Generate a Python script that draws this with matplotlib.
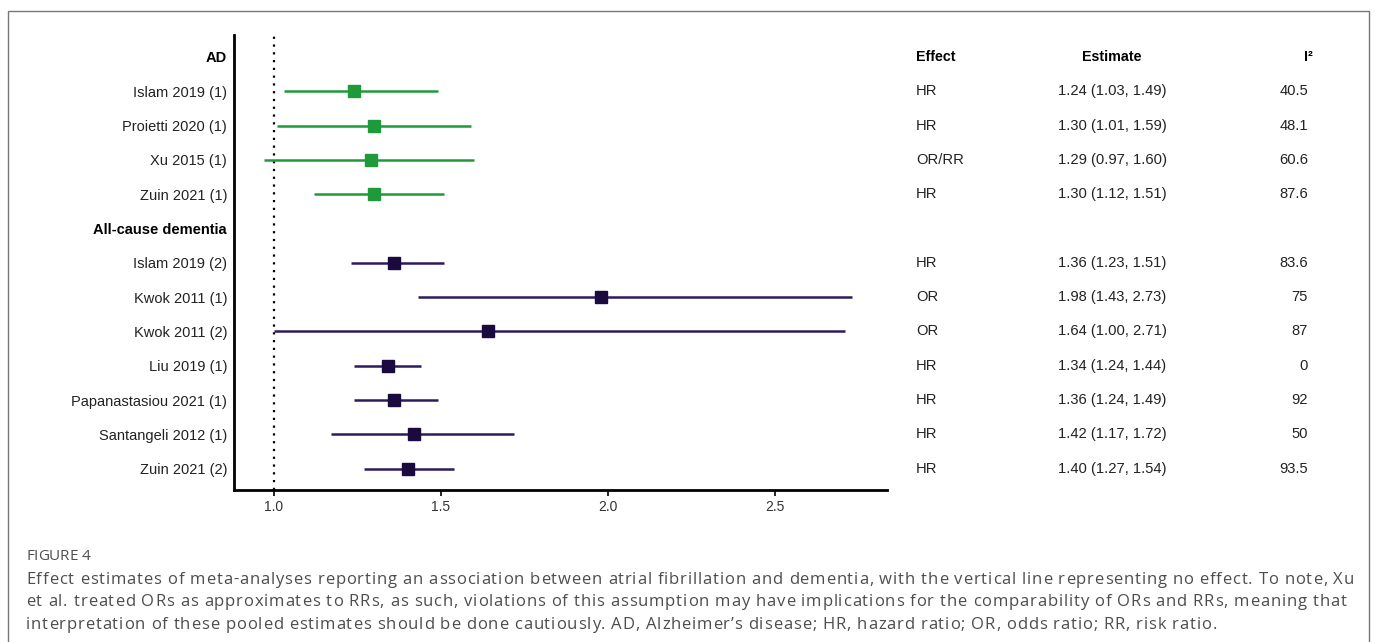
import matplotlib
matplotlib.use("Agg")
import matplotlib.pyplot as plt
import matplotlib.transforms as mtransforms
from matplotlib.patches import Rectangle
from matplotlib.font_manager import FontProperties, findfont, get_font

# ---------------- data ----------------
ad_studies = ["Islam 2019 (1)", "Proietti 2020 (1)", "Xu 2015 (1)", "Zuin 2021 (1)"]
ad_est = [1.24, 1.30, 1.29, 1.30]
ad_lo = [1.03, 1.01, 0.97, 1.12]
ad_hi = [1.49, 1.59, 1.60, 1.51]
ad_effect = ["HR", "HR", "OR/RR", "HR"]
ad_i2 = ["40.5", "48.1", "60.6", "87.6"]

dem_studies = ["Islam 2019 (2)", "Kwok 2011 (1)", "Kwok 2011 (2)", "Liu 2019 (1)",
               "Papanastasiou 2021 (1)", "Santangeli 2012 (1)", "Zuin 2021 (2)"]
dem_est = [1.36, 1.98, 1.64, 1.34, 1.36, 1.42, 1.40]
dem_lo = [1.23, 1.43, 1.00, 1.24, 1.24, 1.17, 1.27]
dem_hi = [1.51, 2.73, 2.71, 1.44, 1.49, 1.72, 1.54]
dem_effect = ["HR", "OR", "OR", "HR", "HR", "HR", "HR"]
dem_i2 = ["83.6", "75", "87", "0", "92", "50", "93.5"]

group_names = ["AD", "All-cause dementia"]
xticks = [1.0, 1.5, 2.0, 2.5]

caption_title = "FIGURE 4"
cap_lines = [
    "Effect estimates of meta-analyses reporting an association between atrial fibrillation and dementia, with the vertical line representing no effect. To note, Xu",
    "et al. treated ORs as approximates to RRs, as such, violations of this assumption may have implications for the comparability of ORs and RRs, meaning that",
    "interpretation of these pooled estimates should be done cautiously. AD, Alzheimer\u2019s disease; HR, hazard ratio; OR, odds ratio; RR, risk ratio.",
]

green = "#1f9a3a"
navy = "#1b0a3e"
navy_line = "#2e1b5e"

plt.rcParams['font.family'] = ['Liberation Sans', 'DejaVu Sans']

W, H, DPI = 1375, 642, 100
fig = plt.figure(figsize=(W / DPI, H / DPI), dpi=DPI)

# border
fig.patches.append(Rectangle((8 / W, -0.05), (1369 - 8) / W, 1.05 - 11 / H,
                             transform=fig.transFigure, fill=False,
                             edgecolor="#777777", linewidth=1.0))

ax = fig.add_axes([234 / W, 1 - 490 / H, (887 - 234) / W, (490 - 35) / H])

# build rows (top to bottom)
rows = []
rows.append((group_names[0], True, None, None, None, None, "", ""))
for s, e, l, h, ef, i2 in zip(ad_studies, ad_est, ad_lo, ad_hi, ad_effect, ad_i2):
    rows.append((s, False, e, l, h, "ad", ef, i2))
rows.append((group_names[1], True, None, None, None, None, "", ""))
for s, e, l, h, ef, i2 in zip(dem_studies, dem_est, dem_lo, dem_hi, dem_effect, dem_i2):
    rows.append((s, False, e, l, h, "dem", ef, i2))

n = len(rows)
ypos = [n - 1 - i for i in range(n)]

for (lab, bold, e, l, h, grp, ef, i2), y in zip(rows, ypos):
    if e is None:
        continue
    lc = green if grp == "ad" else navy_line
    mc = green if grp == "ad" else navy
    ax.plot([l, h], [y, y], color=lc, lw=1.8, solid_capstyle="butt", zorder=2)
    ax.plot([e], [y], marker="s", ms=8.5, color=mc, zorder=3)

ax.axvline(1.0, color="black", ls=(0, (1, 2.5)), lw=1.6, zorder=1)

ax.set_xlim(1.0 - 40 / 334, 1.0 + 613 / 334)
ax.set_ylim(-0.62, n - 1 + 0.64)
ax.set_xticks(xticks)
ax.set_xticklabels([f"{t:.1f}" for t in xticks], fontsize=10, color="#333333")
ax.set_yticks(ypos)
ax.set_yticklabels([r[0] for r in rows], fontsize=10.5, color="#222222")
for tl, r in zip(ax.get_yticklabels(), rows):
    if r[1]:
        tl.set_fontweight("bold")
        tl.set_color("black")
ax.tick_params(axis="y", length=0, pad=5)
ax.tick_params(axis="x", length=4, width=1.2, pad=3)
for sp in ["top", "right"]:
    ax.spines[sp].set_visible(False)
for sp in ["left", "bottom"]:
    ax.spines[sp].set_linewidth(2.0)

# table
tr = mtransforms.blended_transform_factory(fig.transFigure, ax.transData)
x_eff, x_est, x_i2h, x_i2 = 916 / W, 1112 / W, 1313 / W, 1308 / W
top = ypos[0]
ax.text(x_eff, top, "Effect", transform=tr, fontsize=10.3, fontweight="bold", ha="left", va="center")
ax.text(x_est, top, "Estimate", transform=tr, fontsize=10.3, fontweight="bold", ha="center", va="center")
ax.text(x_i2h, top, "I²", transform=tr, fontsize=10.3, fontweight="bold", ha="right", va="center")
for (lab, bold, e, l, h, grp, ef, i2), y in zip(rows, ypos):
    if e is None:
        continue
    ax.text(x_eff, y, ef, transform=tr, fontsize=10.6, ha="left", va="center", color="#222222")
    ax.text(x_est, y, f"{e:.2f} ({l:.2f}, {h:.2f})", transform=tr, fontsize=10.6,
            ha="center", va="center", color="#222222")
    ax.text(x_i2, y, i2, transform=tr, fontsize=10.6, ha="right", va="center", color="#222222")


# caption with letter spacing (tracking)
def advances(s, family, size):
    prop = FontProperties(family=family, size=size)
    font = get_font(findfont(prop))
    font.set_size(size, DPI)
    out = []
    for c in s:
        g = font.load_char(ord(c))
        out.append(g.linearHoriAdvance / 65536.0)
    return out


def tracked_text(x0, y_base, s, family, size, color, tracking):
    adv = advances(s, family, size)
    x = x0
    for c, a in zip(s, adv):
        if c != " ":
            fig.text(x / W, 1 - y_base / H, c, family=family, fontsize=size,
                     color=color, ha="left", va="baseline")
        x += a + tracking


cap_family = "Open Sans"
cap_size = 12.0
nat = advances(cap_lines[0], cap_family, cap_size)
target = 1354 - 26
track = (target - sum(nat)) / (len(cap_lines[0]) - 1)

tsize = 11.0
tnat = advances(caption_title, cap_family, tsize)
ttrack = (64 - sum(tnat)) / (len(caption_title) - 1)
tracked_text(26, 560, caption_title, cap_family, tsize, "#4f4f4f", ttrack)

for i, line in enumerate(cap_lines):
    tracked_text(26, 584 + 22.5 * i, line, cap_family, cap_size, "#4d4d4d", track)

fig.savefig("out.png", dpi=DPI)
